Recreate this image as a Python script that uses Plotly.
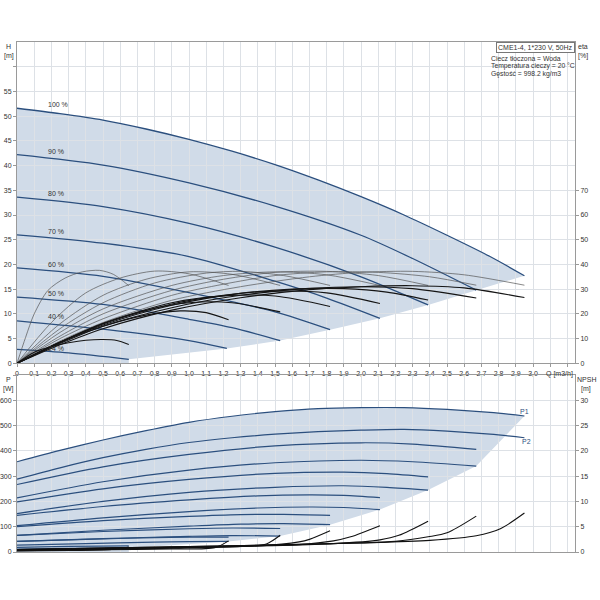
import plotly.graph_objects as go

# ---------------- data ----------------
speeds = [100, 90, 80, 70, 60, 50, 40, 24]
speed_labels = ["100 %", "90 %", "80 %", "70 %", "60 %", "50 %", "40 %", "24 %"]
speed_label_h = [52.4, 42.9, 34.3, 26.7, 20.0, 14.1, 9.4, 3.0]

# H-Q curves (m)
h_q = {
    100: [0, 0.25, 0.5, 0.75, 1.0, 1.25, 1.5, 1.75, 2.0, 2.25, 2.5, 2.75, 2.95],
    90: [0, 0.5, 1.0, 1.5, 2.0, 2.3, 2.67],
    80: [0, 0.5, 1.0, 1.5, 2.0, 2.39],
    70: [0, 0.5, 1.0, 1.5, 1.8, 2.11],
    60: [0, 0.5, 1.0, 1.5, 1.82],
    50: [0, 0.5, 1.0, 1.25, 1.53],
    40: [0, 0.5, 1.0, 1.22],
    24: [0, 0.3, 0.65],
}
h_val = {
    100: [51.6, 50.5, 49.2, 47.4, 45.3, 42.9, 40.2, 37.1, 33.7, 30.0, 25.9, 21.6, 17.7],
    90: [42.2, 40.1, 36.5, 31.8, 25.9, 21.2, 14.8],
    80: [33.6, 31.7, 28.3, 23.5, 17.5, 11.8],
    70: [26.0, 24.3, 21.6, 16.6, 13.2, 9.1],
    60: [19.3, 17.6, 14.3, 10.4, 6.8],
    50: [13.4, 11.9, 8.9, 7.2, 4.6],
    40: [8.6, 6.9, 4.6, 3.0],
    24: [2.8, 2.1, 0.8],
}

# thin efficiency curves (%)
eta_thin_q = {
    100: [0, 0.25, 0.5, 0.9, 1.3, 1.7, 2.0, 2.3, 2.6, 2.95],
    90: [0, 0.25, 0.5, 0.9, 1.2, 1.5, 1.8, 2.1, 2.4, 2.67],
    80: [0, 0.25, 0.5, 0.9, 1.2, 1.5, 1.8, 2.1, 2.39],
    70: [0, 0.25, 0.5, 0.9, 1.2, 1.5, 1.8, 2.11],
    60: [0, 0.25, 0.5, 0.8, 1.1, 1.3, 1.55, 1.82],
    50: [0, 0.25, 0.5, 0.75, 1.0, 1.25, 1.53],
    40: [0, 0.2, 0.4, 0.6, 0.8, 1.0, 1.23],
    24: [0, 0.05, 0.1, 0.18, 0.28, 0.38, 0.48, 0.56, 0.65],
}
eta_thin_val = {
    100: [0, 9, 16.5, 25.5, 31, 35, 36.8, 37.2, 35.8, 31.6],
    90: [0, 10, 18, 27.5, 32, 35.5, 37, 36.8, 35, 31.6],
    80: [0, 11, 20, 29.5, 34, 36.8, 37.2, 35.5, 31.5],
    70: [0, 12.5, 22, 31.5, 35.5, 37, 35.8, 31.5],
    60: [0, 14, 24.5, 32.5, 36.5, 37.2, 35.5, 31.5],
    50: [0, 16, 27.5, 34, 37, 36, 31.5],
    40: [0, 16.5, 28.5, 34.5, 37.3, 36.2, 31.5],
    24: [0, 10.5, 20, 29.5, 34.5, 37, 37.6, 36, 31.4],
}

# thick (total) efficiency curves (%)
eta_q = {
    100: [0, 0.25, 0.5, 0.9, 1.3, 1.7, 2.0, 2.3, 2.6, 2.95],
    90: [0, 0.25, 0.5, 0.9, 1.3, 1.7, 2.0, 2.3, 2.67],
    80: [0, 0.25, 0.5, 0.9, 1.3, 1.6, 1.9, 2.15, 2.39],
    70: [0, 0.25, 0.5, 0.9, 1.2, 1.5, 1.8, 2.11],
    60: [0, 0.25, 0.5, 0.9, 1.2, 1.5, 1.82],
    50: [0, 0.25, 0.5, 0.75, 1.0, 1.25, 1.53],
    40: [0, 0.25, 0.5, 0.75, 0.95, 1.1, 1.23],
    24: [0, 0.1, 0.2, 0.3, 0.4, 0.5, 0.58, 0.65],
}
eta_val = {
    100: [0, 7.5, 14, 21.5, 26.5, 29.8, 31, 31.4, 30.5, 26.6],
    90: [0, 8, 15, 22.5, 27.5, 30.3, 31, 30.2, 26.4],
    80: [0, 8.5, 15.5, 23.5, 28.3, 30, 30.2, 28.8, 25.6],
    70: [0, 8.5, 16, 24, 27.5, 29.2, 28.5, 24.2],
    60: [0, 8.5, 16.2, 24.5, 27.3, 27.2, 23.0],
    50: [0, 8.5, 16, 21.5, 24.5, 24.5, 20.8],
    40: [0, 8.5, 15, 19.5, 21.2, 20.5, 17.6],
    24: [0, 4.5, 6.8, 8.3, 9.3, 9.6, 9.2, 7.6],
}

# power curves (W)
p_q = {
    100: [0, 0.25, 0.5, 0.75, 1.0, 1.25, 1.5, 1.75, 2.0, 2.25, 2.5, 2.75, 2.95],
    90: [0, 0.5, 1.0, 1.5, 2.0, 2.3, 2.67],
    80: [0, 0.5, 1.0, 1.5, 1.9, 2.15, 2.39],
    70: [0, 0.5, 1.0, 1.4, 1.7, 1.9, 2.11],
    60: [0, 0.5, 1.0, 1.3, 1.55, 1.82],
    50: [0, 0.5, 1.0, 1.25, 1.53],
    40: [0, 0.4, 0.8, 1.0, 1.23],
    24: [0, 0.3, 0.65],
}
p1_val = {
    100: [357, 402, 443, 480, 513, 537, 555, 567, 571, 571, 564, 552, 538],
    90: [267, 337, 386, 420, 432, 427, 406],
    80: [198, 250, 287, 311, 316, 310, 297],
    70: [145, 180, 206, 222, 226, 224, 215],
    60: [100, 124, 141, 148, 149, 145],
    50: [66, 81, 92, 95, 93],
    40: [42, 50, 57, 59, 59],
    24: [18, 22, 24],
}
p2_val = {
    100: [288, 333, 373, 406, 433, 452, 466, 476, 482, 485, 478, 466, 452],
    90: [214, 278, 324, 353, 363, 357, 340],
    80: [152, 200, 236, 256, 262, 256, 245],
    70: [104, 135, 160, 174, 178, 176, 168],
    60: [66, 86, 102, 110, 112, 108],
    50: [42, 53, 62, 65, 63],
    40: [27, 33, 39, 41, 42],
    24: [11, 14, 16],
}

# NPSH curves (m)
npsh_q = {
    100: [0, 0.5, 1.0, 1.5, 2.0, 2.4, 2.67, 2.81, 2.95],
    90: [0, 0.5, 1.0, 1.5, 2.0, 2.2, 2.39, 2.5, 2.67],
    80: [0, 0.5, 1.0, 1.5, 1.84, 2.11, 2.22, 2.39],
    70: [0, 0.5, 1.0, 1.4, 1.64, 1.84, 1.94, 2.11],
    60: [0, 0.5, 1.0, 1.4, 1.64, 1.70, 1.82],
    50: [0, 0.5, 1.0, 1.3, 1.45, 1.53],
    40: [0, 0.5, 0.9, 1.15, 1.23],
    24: [0, 0.3, 0.55, 0.65],
}
npsh_val = {
    100: [0.5, 0.8, 1.1, 1.4, 1.8, 2.3, 3.2, 4.6, 7.7],
    90: [0.5, 0.8, 1.1, 1.4, 1.8, 2.1, 3.0, 3.8, 7.1],
    80: [0.4, 0.7, 1.0, 1.3, 1.65, 2.4, 3.3, 6.1],
    70: [0.4, 0.7, 0.95, 1.2, 1.45, 2.2, 3.0, 5.2],
    60: [0.35, 0.6, 0.9, 1.2, 2.0, 2.5, 4.2],
    50: [0.3, 0.5, 0.8, 1.1, 1.6, 3.3],
    40: [0.25, 0.45, 0.6, 0.87, 2.2],
    24: [0.2, 0.3, 0.5, 1.0],
}

q_ticks = [round(i * 0.1, 1) for i in range(33)]
q_tick_text = ["0"] + [f"{v:.1f}".replace(".", ",") for v in q_ticks[1:31]] + ["", ""]
h_ticks = list(range(0, 65, 5))
h_tick_text = [str(v) for v in h_ticks[:-1]] + [""]
eta_ticks = list(range(0, 80, 10))
p_ticks = list(range(0, 800, 100))
p_tick_text = [str(v) for v in p_ticks[:-1]] + [""]
npsh_ticks = list(range(0, 35, 5))

model_text = "CME1-4, 1*230 V, 50Hz"
info_lines = ["Ciecz tłoczona = Woda", "Temperatura cieczy = 20 °C", "Gęstość = 998.2 kg/m3"]

# ---------------- styling ----------------
BLUE = "#2b4f7e"
SHADE = "#d0dbe8"
GRID = "#dde1e6"
FONT = "Liberation Sans, Arial, sans-serif"
TXT = "#333333"

fig = go.Figure()


def line(x, y, xa, ya, color, width):
    fig.add_trace(go.Scatter(x=x, y=y, xaxis=xa, yaxis=ya, mode="lines",
                             line=dict(color=color, width=width, shape="spline", smoothing=0.8),
                             hoverinfo="skip", showlegend=False))


# shaded areas built from the curve data (drawn below the grid)
top_x = list(h_q[100]) + [h_q[s][-1] for s in speeds[1:]] + [h_q[24][-1], 0]
top_y = list(h_val[100]) + [h_val[s][-1] for s in speeds[1:]] + [0, 0]
bot_x = list(p_q[100]) + [p_q[s][-1] for s in speeds[1:]] + [p_q[24][-1], 0]
bot_y = list(p1_val[100]) + [p2_val[s][-1] for s in speeds[1:]] + [0, 0]


def path(xs, ys):
    pts = [f"{x},{y}" for x, y in zip(xs, ys)]
    return "M" + " L".join(pts) + " Z"


shapes = [
    dict(type="path", path=path(top_x, top_y), xref="x", yref="y",
         fillcolor=SHADE, line=dict(width=0), layer="below"),
    dict(type="path", path=path(bot_x, bot_y), xref="x2", yref="y2",
         fillcolor=SHADE, line=dict(width=0), layer="below"),
]

# top plot curves
for s in speeds:
    line(eta_thin_q[s], eta_thin_val[s], "x", "y3", "#555555", 0.7)
for s in speeds:
    line(h_q[s], h_val[s], "x", "y", BLUE, 1.3)
for s in speeds:
    line(eta_q[s], eta_val[s], "x", "y3", "#151515", 1.1)

# bottom plot curves
for s in speeds:
    line(p_q[s], p1_val[s], "x2", "y2", BLUE, 1.2)
    line(p_q[s], p2_val[s], "x2", "y2", BLUE, 1.2)
for s in speeds:
    line(npsh_q[s], npsh_val[s], "x2", "y4", "#111111", 1.1)

tickfont = dict(family=FONT, size=7, color=TXT)
axis_common = dict(showline=True, linecolor="#9a9a9a", linewidth=1, mirror=True,
                   gridcolor=GRID, gridwidth=1, zeroline=False, tickfont=tickfont,
                   ticks="outside", ticklen=3, tickcolor="#9a9a9a", automargin=False)
right_common = dict(showgrid=False, zeroline=False, showline=False, ticks="outside", ticklen=3,
                    tickcolor="#9a9a9a", tickfont=tickfont, automargin=False)

annotations = []
for lab, yy in zip(speed_labels, speed_label_h):
    annotations.append(dict(x=0.17, y=yy, xref="x", yref="y", text=lab, showarrow=False,
                            xanchor="left", yanchor="middle",
                            font=dict(family=FONT, size=7, color=TXT)))


def ptext(txt, x, y, xanchor="center", size=7):
    annotations.append(dict(x=x, y=y, xref="paper", yref="paper", text=txt, showarrow=False,
                            xanchor=xanchor, yanchor="middle",
                            font=dict(family=FONT, size=size, color=TXT)))


ptext("H", -0.0145, 0.992)
ptext("[m]", -0.0145, 0.973)
ptext("eta", 1.0145, 0.992)
ptext("[%]", 1.0145, 0.973)
ptext("P", -0.0145, 0.338)
ptext("[W]", -0.0145, 0.320)
ptext("NPSH", 1.02, 0.338)
ptext("[m]", 1.02, 0.320)
ptext("Q [m3/h]", 0.973, 0.3495)
annotations.append(dict(x=1, y=1, xref="paper", yref="paper", text=model_text, showarrow=False,
                        xanchor="right", yanchor="top", bordercolor="#777777", borderwidth=1,
                        borderpad=1, bgcolor="white", font=dict(family=FONT, size=7, color=TXT)))
for i, t in enumerate(info_lines):
    annotations.append(dict(x=0.846, y=0.968 - i * 0.0155, xref="paper", yref="paper", text=t,
                            showarrow=False, xanchor="left", yanchor="middle",
                            font=dict(family=FONT, size=6.8, color=TXT)))
annotations.append(dict(x=2.95, y=556, xref="x2", yref="y2", text="P1", showarrow=False,
                        xanchor="center", yanchor="middle", font=dict(family=FONT, size=7, color=BLUE)))
annotations.append(dict(x=2.96, y=436, xref="x2", yref="y2", text="P2", showarrow=False,
                        xanchor="center", yanchor="middle", font=dict(family=FONT, size=7, color=BLUE)))

fig.update_layout(
    width=600, height=600,
    margin=dict(l=17, r=25, t=42, b=48, autoexpand=False),
    paper_bgcolor="white", plot_bgcolor="white",
    showlegend=False,
    shapes=shapes,
    annotations=annotations,
    xaxis=dict(domain=[0, 1], anchor="y", range=[0, 3.244], tickvals=q_ticks, ticktext=q_tick_text,
               **axis_common),
    yaxis=dict(domain=[0.370, 1], anchor="x", range=[0, 65], tickvals=h_ticks, ticktext=h_tick_text,
               **axis_common),
    yaxis3=dict(overlaying="y", anchor="x", side="right", range=[0, 130], tickvals=eta_ticks,
                **right_common),
    xaxis2=dict(domain=[0, 1], anchor="y2", range=[0, 3.244], tickvals=q_ticks,
                showticklabels=False, **{k: v for k, v in axis_common.items() if k != "ticks"}),
    yaxis2=dict(domain=[0, 0.347], anchor="x2", range=[0, 700], tickvals=p_ticks, ticktext=p_tick_text,
                **axis_common),
    yaxis4=dict(overlaying="y2", anchor="x2", side="right", range=[0, 35], tickvals=npsh_ticks,
                **right_common),
)

fig.write_html("out.html", config={"displayModeBar": False},
               post_script="document.body.style.margin='0';")
